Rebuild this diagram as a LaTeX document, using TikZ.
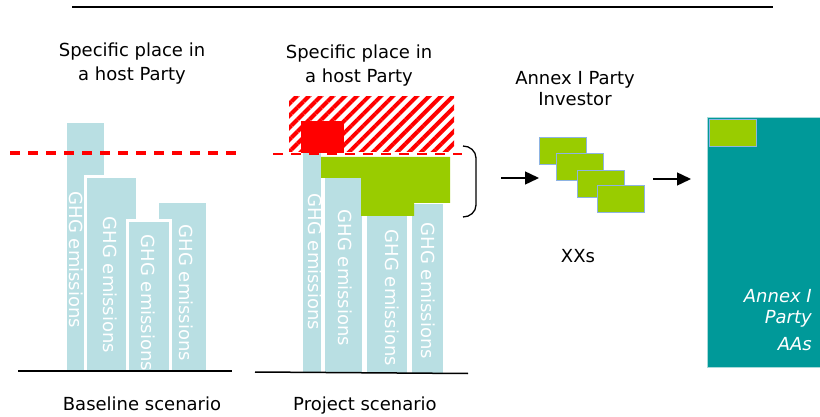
\documentclass[tikz,border=0pt]{standalone}
\usepackage{fontspec}
\setmainfont{DejaVu Sans}
\usetikzlibrary{arrows.meta,patterns.meta,positioning}
\definecolor{mbar}{HTML}{B9DFE3}
\definecolor{mgreen}{HTML}{99CC00}
\definecolor{mcard}{HTML}{8DB3E2}
\definecolor{mteal}{HTML}{009999}
\definecolor{mtealL}{HTML}{A8DADA}
\definecolor{mred}{HTML}{FF0000}
\tikzset{
  every node/.style={font=\fontsize{18}{24}\selectfont, inner sep=0pt},
  bar/.style ={fill=mbar, draw=white, line width=3pt},
  ghg/.style ={text=white, rotate=-90},
  crd/.style ={fill=mgreen, draw=mcard, line width=1.2pt, minimum width=47pt,
               minimum height=27pt, anchor=north west},
  arw/.style ={-{Triangle[length=14pt,width=13pt]}, line width=1.4pt},
  lbl/.style ={anchor=base, align=center},
  gnd/.style ={line width=1.5pt},
  redln/.style={draw=mred, dash pattern=on 10pt off 8pt},
}
\begin{document}
\begin{tikzpicture}[x=1pt,y=-1pt]
\useasboundingbox (0,0) rectangle (820,417);

\draw[gnd] (72,7) -- (773,7);

% baseline scenario
\draw[bar] (65,122) rectangle (105,372.5);
\draw[bar] (85.5,176.5) rectangle (137.5,372.5);
\draw[bar] (157,202) rectangle (207,372.5);
\draw[bar] (127.5,220.5) rectangle (170,372.5);
\node[ghg] (b1) at (76.5,260) {GHG emissions};
\node[ghg] (b2) at (110,285) {GHG emissions};
\node[ghg] (b3) at (148,303) {GHG emissions};
\node[ghg] (b4) at (186,293) {GHG emissions};
\draw[gnd] (18,371) -- (232,371);
\draw[redln, line width=3.5pt] (10,153) -- (240,153);

% project scenario
\draw[bar] (301,130) rectangle (322.5,374);
\draw[bar] (323.5,165) rectangle (363.5,374);
\draw[bar] (410.5,203) rectangle (444,374);
\draw[bar] (365.5,200) rectangle (408.5,374);
\node[ghg] (p1) at (315,262) {GHG emissions};
\node[ghg] (p2) at (345,278) {GHG emissions};
\node[ghg] (p3) at (392,298) {GHG emissions};
\node[ghg] (p4) at (428,291) {GHG emissions};
\draw[gnd] (255,372) -- (468,373.5);

\fill[white] (289,97) rectangle (454,152);
\fill[pattern={Lines[angle=45,distance=8.5pt,line width=4pt]}, pattern color=mred]
  (289,97) rectangle (454,152);
\fill[mred] (301,121) rectangle (344,153);
\fill[mgreen] (321,157) -- (450,157) -- (450,203) -- (414,203) -- (414,216)
  -- (361,216) -- (361,178) -- (321,178) -- cycle;
\draw[redln, line width=2pt] (273,154) -- (462,154);
\draw[line width=1.3pt] (463,146) to[out=0,in=90] (476,158) -- (476,205)
  to[out=-90,in=0] (463,217);

% investor and registry
\coordinate (a1s) at (501,178);
\coordinate (a1e) at (539,178);
\draw[arw] (a1s) -- (a1e);
\node[crd] (x1) at (539,137) {};
\node[crd] (x2) at (556,153) {};
\node[crd] (x3) at (577,170) {};
\node[crd] (x4) at (597,185) {};
\coordinate (a2s) at (653,179);
\coordinate (a2e) at (691,179);
\draw[arw] (a2s) -- (a2e);
\node[fill=mteal, draw=mtealL, line width=1pt, anchor=north west,
      minimum width=115pt, minimum height=250pt] (reg) at (707,117) {};
\node[crd] (aa1) at (709,119) {};

% labels
\node[lbl] (tl) at (132,81) {Specific place in\\a host Party};
\node[lbl] (tm) at (359,83) {Specific place in\\a host Party};
\node[lbl] (inv) at (575,106) {Annex I Party\\[-3pt]Investor};
\node[lbl] (xxs) at (578,262) {XXs};
\node[lbl] (bsc) at (142,410) {Baseline scenario};
\node[lbl] (psc) at (365,410) {Project scenario};
\node[anchor=base east, align=right, text=white,
      font=\fontsize{18}{21}\selectfont\itshape] (aas) at (812,350)
  {Annex I\\Party\\[6pt]AAs};
\end{tikzpicture}
\end{document}
